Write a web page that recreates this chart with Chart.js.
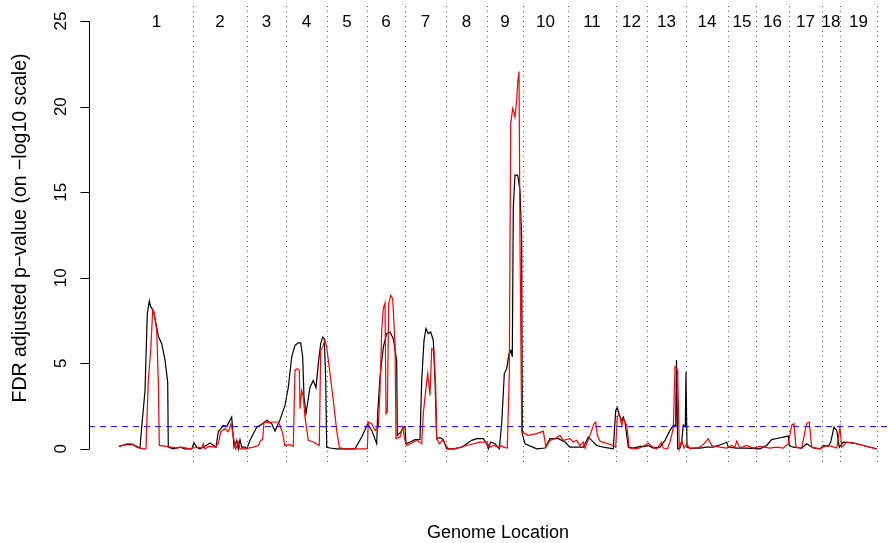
<!DOCTYPE html>
<html>
<head>
<meta charset="utf-8">
<script src="https://cdn.jsdelivr.net/npm/chart.js@4.4.1/dist/chart.umd.min.js"></script>
<style>
  html, body { margin: 0; padding: 0; background: #fff; }
  #wrap { width: 890px; height: 543px; position: relative; }
</style>
</head>
<body>
<div id="wrap"><canvas id="scan"></canvas></div>
<script>
// Genome-wide FDR scan: two scans along the concatenated chromosomes,
// chromosome borders as dotted lines, 0.05 threshold as a dashed blue line.

const FONT = '"Liberation Sans", Arial, Helvetica, sans-serif';

const chromNames = ["1","2","3","4","5","6","7","8","9","10",
                    "11","12","13","14","15","16","17","18","19"];
// cumulative end of each chromosome (genome location units, chr1 starts at 0)
const chromEnds = [73, 127, 166, 207, 247, 285, 326, 367, 403, 448,
                   496, 527, 566, 608, 636, 669, 702, 720, 757];
const yTicks = [0, 5, 10, 15, 20, 25];
const fdrCut = -Math.log10(0.05);

// black scan
const scanAPos = [-1, 7, 13, 20, 21.7, 25, 27.3, 29.3, 30.7, 33.3, 36.7, 38.3, 41.7, 45, 47.7, 48.3,
  53.3, 60, 65, 71.7, 74, 76.7, 80, 83.3, 90, 96, 98.3, 103.3, 106.7, 110, 111.7, 112.7, 114,
  116.7, 118.3, 120, 121.7, 125, 126.7, 130, 136.7, 143.3, 146.7, 151.7, 155, 160, 165, 168.3,
  171.7, 175, 178.3, 180.7, 182.7, 184, 186, 190, 193.3, 196, 198.3, 200.7, 202.7, 204.3, 205.7,
  206.7, 210, 216.7, 235, 241.7, 247.7, 251.7, 256.7, 257.7, 260, 263.3, 266.7, 270, 273.3, 276.7,
  277.3, 280.7, 283.3, 285, 286, 290, 295, 300, 301.7, 304, 306, 308.3, 310.7, 313.3, 315, 316.7,
  320, 323.3, 326.7, 333.3, 341.7, 351.7, 356.7, 363.3, 366.7, 368.3, 370.7, 375, 379.3, 381.7,
  384.3, 386.7, 389, 391, 392.3, 393.3, 395, 397.7, 400, 401.7, 402.3, 405, 416.7, 425, 430,
  438.3, 445, 450, 463.3, 468.3, 471.7, 476.7, 483.3, 493.3, 495.7, 497.3, 499.3, 501.7, 503.3,
  505, 508.3, 513.3, 520, 525, 528.3, 533.3, 540, 545, 550, 553.3, 555.7, 556.5, 557.7, 560,
  561.7, 563.3, 565.3, 566, 567, 570, 580, 586.7, 593.3, 603.3, 606.7, 608.3, 616.7, 626.7, 640,
  646.7, 651.7, 660, 668.3, 669.3, 673.3, 681.7, 686.7, 693.3, 700, 703.3, 708.3, 710.7, 714,
  716.7, 719.3, 723.3, 733.3, 743.3, 753.3, 756.7];
const scanAVal = [0.15, 0.26, 0.25, 0.05, 1.27, 3.4, 7.9, 8.65, 8.3, 8.1, 7.1, 6.6, 6.15, 5.2, 3.9, 0.1,
  0, 0.1, 0, 0, 0.35, 0.1, 0, 0.1, 0.35, 0.1, 1.0, 1.37, 1.3, 1.67, 1.86, 1.08, 0.1,
  0.5, 0, 0.54, 0.1, 0.1, 0, 0.5, 1.27, 1.5, 1.67, 1.47, 1.04, 1.7, 2.54, 3.6,
  5.37, 6.05, 6.19, 6.19, 5.37, 3.03, 2.06, 3.6, 4.0, 3.58, 4.98, 6.15, 6.54, 6.44, 4.0,
  0.1, 0.05, 0, 0, 0.69, 1.47, 1.08, 0.3, 2.06, 4.2, 5.95, 6.74, 6.83, 6.44, 5.18,
  0.79, 0.98, 1.27, 1.3, 0.3, 0.4, 0.54, 0.54, 4.0, 6.34, 7.03, 6.74, 6.83, 6.34, 4.0, 0.6,
  0.65, 0.54, 0, 0, 0.1, 0.5, 0.6, 0.6, 0.3, 0, 0.4, 0.3, 0, 1.47,
  4.4, 4.69, 5.57, 5.76, 5.37, 14.1, 16.0, 16.0, 15.1, 12.2, 0.89, 0.3, 0, 0.05, 0.6,
  0.6, 0.4, 0.1, 0.1, 0.69, 0.5, 0.2, 0.1, 0, 2.25, 2.41, 1.96, 1.67, 1.86,
  1.57, 0.1, 0.05, 0.15, 0.15, 0.2, 0.05, 0.1, 0.5, 1.08, 1.37, 1.37, 5.2, 0, 0.05,
  0.4, 1.4, 1.3, 4.5, 0.1, 0.05, 0.05, 0.1, 0.1, 0.3, 0.4, 0.1, 0.05, 0.05, 0,
  0.2, 0.54, 0.65, 0.75, 0.2, 0.1, 0.05, 0.3, 0.05, 0, 0.2, 0.15, 0.4, 1.27,
  1.08, 0.1, 0.4, 0.35, 0.2, 0.05, 0];

// red scan
const scanBPos = [0, 6.7, 11.7, 16.7, 23.3, 26, 28.3, 30.7, 32.7, 34, 36.7, 38.3, 39.3, 46.7, 56.7,
  61.7, 70, 73.3, 78.3, 81.7, 83.3, 85, 88.3, 95, 98.3, 100.7, 105, 108.3, 111, 112.3, 114, 115.7,
  118.3, 120, 125, 133.3, 138.3, 140.7, 142.7, 144, 148.3, 153.3, 158.3, 160, 162.7, 164.7, 170,
  173.3, 175, 177.3, 179.3, 180, 181.7, 183.3, 185, 188.3, 193.3, 199.3, 200.7, 202.7, 205, 206.7,
  210, 213.3, 216.7, 219.3, 223.3, 247.3, 248.3, 251.7, 255, 258.3, 260, 261.7, 263.3, 265, 266,
  267.3, 268.7, 270.7, 272.7, 275, 276, 280, 282.7, 285, 286.7, 291.7, 296.7, 301.7, 303.3, 305.7,
  307.7, 310, 311.7, 314, 315.7, 316.7, 319.3, 323.3, 325, 328.3, 335, 346.7, 360, 366.7, 370,
  373.3, 378.3, 381.7, 383.3, 387.3, 389.3, 390.7, 392.7, 395, 396.7, 397.7, 399, 400, 401.7,
  408.3, 416.7, 423.3, 426, 430, 435, 440, 443.3, 450, 453.3, 456.7, 460, 463.3, 465, 470, 474,
  475.7, 477.3, 480, 493.3, 495.7, 497.3, 499.3, 501.7, 503.3, 506.7, 509.3, 516.7, 521.7, 528.3,
  531.7, 536.7, 541.7, 543.3, 547.3, 550, 553.3, 555, 557.7, 559.3, 561.7, 564, 566.7, 570, 575,
  580, 585, 588.3, 591.7, 600, 606.7, 611.7, 615, 616.7, 620, 626.7, 633.3, 640, 650, 656.7,
  663.3, 668.3, 671.7, 674, 676, 681.7, 686.7, 689.3, 691.7, 700, 706.7, 711.7, 716.7, 720,
  721.7, 726.7, 736.7, 746.7, 756.7];
const scanBVal = [0.15, 0.3, 0.3, 0.1, 0, 0, 4.0, 5.76, 8.1, 8.0, 6.93, 4.0, 0.2, 0.15, 0.05,
  0.1, 0, 0.05, 0.1, 0.05, 0.3, 0, 0.15, 0.1, 0.3, 1.0, 1.18, 1.0, 1.47, 1.1, 0.5, 0,
  0.4, 0, 0, 0.1, 0.2, 0.5, 0.54, 1.57, 1.53, 1.57, 1.57, 1.37, 0.89, 0.2, 0.25,
  0.15, 4.6, 4.69, 4.6, 2.35, 3.42, 3.03, 1.86, 0.5, 0.4, 0.2, 5.76, 5.95, 6.34, 5.95,
  4.4, 2.84, 1.08, 0.1, 0, 0, 1.57, 1.47, 1.08, 1.27, 3.42, 6.93, 8.2, 8.53, 2.06,
  2.16, 8.49, 8.98, 8.78, 6.15, 0.6, 0.69, 1.27, 0.5, 0.2, 0.35, 0.5, 0.3, 2.06, 3.42,
  4.4, 3.13, 5.86, 5.76, 3.6, 0.6, 0.3, 0.54, 0.3, 0, 0, 0.2, 0.4, 0.4, 0.1,
  0.2, 0.1, 0.2, 0.1, 0.05, 4.4, 19.0, 19.9, 19.4, 20.4, 21.4, 22.05, 12.2, 0.98,
  0.79, 0.89, 1.04, 0.1, 0.5, 0.6, 0.79, 0.5, 0.6, 0.4, 0.5, 0.2, 0.4, 0.05, 0.79, 1.47,
  1.57, 0.79, 0.45, 0.2, 0.1, 1.86, 2.06, 1.37, 1.76, 1.37, 0.05, 0, 0.1, 0.35,
  0.15, 0, 0.4, 0.05, 0, 0.4, 1.2, 4.8, 4.6, 0, 0.5, 0.05, 0.3, 0, 0.05,
  0.1, 0.35, 0.6, 0.2, 0.1, 0.05, 0.2, 0.1, 0.45, 0.05, 0.2, 0.05, 0.15, 0.05, 0.1,
  0.05, 0.3, 1.37, 1.47, 0.1, 0.05, 1.5, 1.57, 0.1, 0, 0.2, 0.15, 0.05, 1.27,
  0.1, 0.4, 0.3, 0.15, 0];

const toPoints = (xs, ys) => xs.map((x, i) => ({ x, y: ys[i] }));

const decorations = {
  id: "decorations",
  afterDatasetsDraw(chart) {
    const { ctx, chartArea: a, scales: { x, y } } = chart;
    ctx.save();
    // chromosome borders
    ctx.strokeStyle = "#555";
    ctx.lineWidth = 1;
    ctx.setLineDash([1, 4]);
    chromEnds.forEach(e => {
      const px = Math.round(x.getPixelForValue(e)) + 0.5;
      ctx.beginPath();
      ctx.moveTo(px, a.top + 2);
      ctx.lineTo(px, a.bottom);
      ctx.stroke();
    });
    // FDR 0.05 threshold
    ctx.strokeStyle = "#0000ff";
    ctx.setLineDash([6, 5]);
    const ty = y.getPixelForValue(fdrCut);
    ctx.beginPath();
    ctx.moveTo(a.left, ty);
    ctx.lineTo(a.right, ty);
    ctx.stroke();
    ctx.restore();
  },
  afterDraw(chart) {
    const { ctx, chartArea: a, scales: { x, y } } = chart;
    ctx.save();
    ctx.fillStyle = "#000";
    ctx.strokeStyle = "#000";
    ctx.lineWidth = 1;
    ctx.font = `17px ${FONT}`;

    // chromosome numbers along the top
    ctx.textAlign = "center";
    ctx.textBaseline = "middle";
    chromNames.forEach((n, i) => {
      const start = i === 0 ? 0 : chromEnds[i - 1];
      const mid = (start + chromEnds[i]) / 2;
      ctx.fillText(n, x.getPixelForValue(mid), y.getPixelForValue(25) + 1);
    });

    // y axis
    const ax = a.left + 0.5;
    ctx.beginPath();
    ctx.moveTo(ax, y.getPixelForValue(0));
    ctx.lineTo(ax, y.getPixelForValue(25));
    yTicks.forEach(t => {
      const py = Math.round(y.getPixelForValue(t)) + 0.5;
      ctx.moveTo(ax, py);
      ctx.lineTo(ax - 9, py);
    });
    ctx.stroke();
    yTicks.forEach(t => {
      ctx.save();
      ctx.translate(61, y.getPixelForValue(t));
      ctx.rotate(-Math.PI / 2);
      ctx.fillText(String(t), 0, 0);
      ctx.restore();
    });

    // axis titles
    ctx.save();
    ctx.font = `19.5px ${FONT}`;
    ctx.translate(21, 228);
    ctx.rotate(-Math.PI / 2);
    ctx.fillText("FDR adjusted p\u2212value (on \u2212log10 scale)", 0, 0);
    ctx.restore();
    ctx.font = `18px ${FONT}`;
    ctx.fillText("Genome Location", 498, 533);
    ctx.restore();
  }
};

new Chart(document.getElementById("scan"), {
  type: "line",
  data: {
    datasets: [
      { label: "scan B", data: toPoints(scanBPos, scanBVal), borderColor: "#ff0000", order: 0 },
      { label: "scan A", data: toPoints(scanAPos, scanAVal), borderColor: "#000000", order: 1 }
    ]
  },
  options: {
    responsive: true,
    maintainAspectRatio: false,
    animation: false,
    layout: { padding: { left: 89, right: 0, top: 4, bottom: 77 } },
    elements: {
      point: { radius: 0 },
      line: { borderWidth: 1.2, tension: 0, fill: false }
    },
    scales: {
      x: { type: "linear", min: -31, max: 770, display: false },
      y: { type: "linear", min: -1, max: 26, display: false }
    },
    plugins: { legend: { display: false }, tooltip: { enabled: false } }
  },
  plugins: [decorations]
});
</script>
</body>
</html>
